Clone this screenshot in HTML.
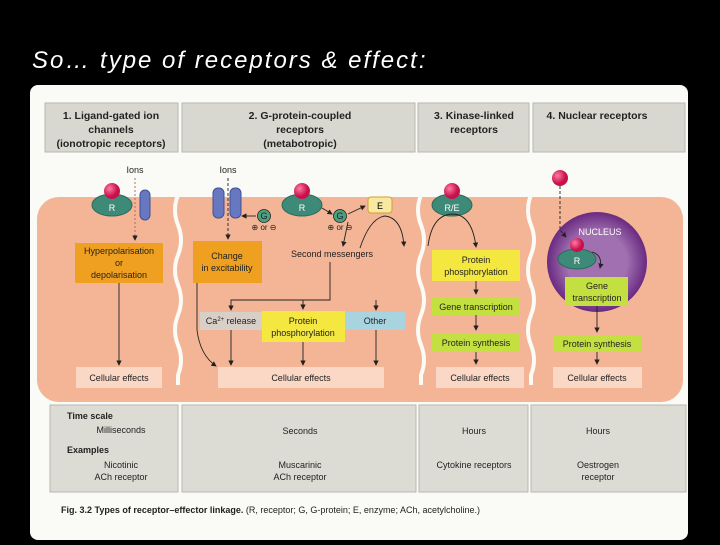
<!DOCTYPE html>
<html><head><style>
body{margin:0;width:720px;height:540px;background:#000;overflow:hidden;font-family:"Liberation Sans",sans-serif}
</style></head><body>
<svg width="720" height="540" viewBox="0 0 720 540" xmlns="http://www.w3.org/2000/svg" font-family="Liberation Sans, sans-serif">
<defs>
<marker id="a" markerWidth="6" markerHeight="6" refX="5" refY="3" orient="auto"><path d="M0,0 L6,3 L0,6z" fill="#222"/></marker>
<radialGradient id="lig" cx="35%" cy="35%"><stop offset="0" stop-color="#ff7aa8"/><stop offset="1" stop-color="#c8104a"/></radialGradient>
<radialGradient id="nuc" cx="50%" cy="50%"><stop offset="0.6" stop-color="#a070b0"/><stop offset="1" stop-color="#6a2a80"/></radialGradient>
</defs>
<text x="32" y="68" fill="#fff" font-size="24" font-style="italic" letter-spacing="2">So… type of receptors &amp; effect:</text>
<rect x="30" y="85" width="658" height="455" rx="8" fill="#fafaf6"/>
<g fill="#d9d8d0" stroke="#b8b8b0">
<rect x="45" y="103" width="133" height="49"/><rect x="182" y="103" width="233" height="49"/>
<rect x="418" y="103" width="111" height="49"/><rect x="533" y="103" width="152" height="49"/>
</g>
<g font-size="10.5" font-weight="bold" fill="#222" text-anchor="middle">
<text x="111" y="119">1. Ligand-gated ion</text><text x="111" y="133">channels</text><text x="111" y="147">(ionotropic receptors)</text>
<text x="300" y="119">2. G-protein-coupled</text><text x="300" y="133">receptors</text><text x="300" y="147">(metabotropic)</text>
<text x="474" y="119">3. Kinase-linked</text><text x="474" y="133">receptors</text>
<text x="597" y="119">4. Nuclear receptors</text>
</g>
<rect x="37" y="197" width="646" height="205" rx="22" fill="#f4b496"/>
<g stroke="#fafaf6" stroke-width="4" fill="none">
<path d="M178,195 q-6,15 0,30 q6,15 0,30 q-6,15 0,30 q6,15 0,30 q-6,15 0,30 q6,15 0,30 l0,10"/>
<path d="M421,195 q-6,15 0,30 q6,15 0,30 q-6,15 0,30 q6,15 0,30 q-6,15 0,30 q6,15 0,30 l0,10"/>
<path d="M531,195 q-6,15 0,30 q6,15 0,30 q-6,15 0,30 q6,15 0,30 q-6,15 0,30 q6,15 0,30 l0,10"/>
</g>
<circle cx="597" cy="262" r="50" fill="url(#nuc)"/>
<text x="600" y="235" font-size="9" fill="#fff" text-anchor="middle">NUCLEUS</text>
<g fill="#3e8a78" stroke="#2a6a5a">
<ellipse cx="112" cy="205" rx="20" ry="11"/><ellipse cx="302" cy="205" rx="20" ry="11"/>
<ellipse cx="452" cy="205" rx="20" ry="11"/><ellipse cx="577" cy="259" rx="19" ry="10"/>
</g>
<g fill="url(#lig)">
<circle cx="112" cy="191" r="8"/><circle cx="302" cy="191" r="8"/><circle cx="452" cy="191" r="8"/>
<circle cx="560" cy="178" r="8"/><circle cx="577" cy="245" r="7"/>
</g>
<g font-size="9" fill="#fff" text-anchor="middle"><text x="112" y="211">R</text><text x="302" y="211">R</text><text x="452" y="211">R/E</text><text x="577" y="264">R</text></g>
<g fill="#6878c0" stroke="#405098">
<rect x="140" y="190" width="10" height="30" rx="5"/><rect x="213" y="188" width="11" height="30" rx="5"/><rect x="230" y="188" width="11" height="30" rx="5"/>
</g>
<g fill="#4aa080" stroke="#222" stroke-width="0.8"><circle cx="264" cy="216" r="6.5"/><circle cx="340" cy="216" r="6.5"/></g>
<g font-size="9" fill="#222" text-anchor="middle"><text x="264" y="219">G</text><text x="340" y="219">G</text>
<text x="264" y="230" font-size="8">⊕ or ⊖</text><text x="340" y="230" font-size="8">⊕ or ⊖</text>
<text x="135" y="173">Ions</text><text x="228" y="173">Ions</text></g>
<rect x="368" y="197" width="24" height="16" rx="3" fill="#f8e8a0" stroke="#d0a030"/>
<text x="380" y="209" font-size="9" text-anchor="middle">E</text>
<rect x="75" y="243" width="88" height="40" fill="#f0a020"/>
<rect x="193" y="241" width="69" height="42" fill="#f0a020"/>
<rect x="200" y="312" width="62" height="18" fill="#d8d0c8"/>
<rect x="262" y="311" width="83" height="31" fill="#f4e840"/>
<rect x="345" y="312" width="60" height="18" fill="#a8d4e0"/>
<rect x="432" y="250" width="88" height="31" fill="#f4e840"/>
<rect x="432" y="297" width="88" height="18" fill="#c4e040"/>
<rect x="432" y="333" width="88" height="19" fill="#c4e040"/>
<rect x="565" y="277" width="63" height="29" fill="#c4e040"/>
<rect x="553" y="335" width="88" height="17" fill="#c4e040"/>
<g fill="#fbd8c6"><rect x="76" y="367" width="86" height="21"/><rect x="218" y="367" width="166" height="21"/><rect x="436" y="367" width="88" height="21"/><rect x="553" y="367" width="89" height="21"/></g>
<g font-size="9" fill="#222" text-anchor="middle">
<text x="119" y="254">Hyperpolarisation</text><text x="119" y="266">or</text><text x="119" y="278">depolarisation</text>
<text x="227" y="259">Change</text><text x="227" y="271">in excitability</text>
<text x="332" y="257">Second messengers</text>
<text x="231" y="324">Ca<tspan font-size="6" dy="-3">2+</tspan><tspan dy="3"> release</tspan></text>
<text x="303" y="324">Protein</text><text x="303" y="336">phosphorylation</text>
<text x="375" y="324">Other</text>
<text x="476" y="263">Protein</text><text x="476" y="275">phosphorylation</text>
<text x="476" y="310">Gene transcription</text><text x="476" y="346">Protein synthesis</text>
<text x="597" y="289">Gene</text><text x="597" y="301">transcription</text>
<text x="597" y="347">Protein synthesis</text>
<text x="119" y="381">Cellular effects</text><text x="301" y="381">Cellular effects</text><text x="480" y="381">Cellular effects</text><text x="597" y="381">Cellular effects</text>
</g>
<g stroke="#222" stroke-width="0.9" fill="none" marker-end="url(#a)">
<path d="M135,178 L135,240" stroke-dasharray="2,2" stroke="#b06060"/>
<path d="M228,178 L228,239" stroke-dasharray="3,2"/>
<path d="M119,283 L119,365"/>
<path d="M256,216 L242,216"/><path d="M322,208 L332,214"/><path d="M348,214 L365,206"/>
<path d="M348,222 L343,246"/>
<path d="M330,262 L330,300 L231,300 L231,310"/><path d="M303,300 L303,309"/><path d="M376,300 L376,310"/>
<path d="M231,330 L231,365"/><path d="M303,342 L303,365"/><path d="M376,330 L376,365"/>
<path d="M197,283 L197,330 Q200,355 216,366"/>
<path d="M360,248 Q370,218 385,216 Q402,218 404,246"/>
<path d="M428,246 Q432,215 452,214 Q472,214 476,247"/>
<path d="M476,281 L476,294"/><path d="M476,315 L476,330"/><path d="M476,352 L476,364"/>
<path d="M560,186 L560,230 L566,237" stroke-dasharray="3,2"/>
<path d="M592,252 Q603,255 600,268"/>
<path d="M597,306 L597,332"/><path d="M597,352 L597,364"/>
</g>
<g fill="#dcdcd4" stroke="#b8b8b0"><rect x="50" y="405" width="128" height="87"/><rect x="182" y="405" width="234" height="87"/><rect x="419" y="405" width="109" height="87"/><rect x="531" y="405" width="155" height="87"/></g>
<g font-size="9" fill="#222" text-anchor="middle">
<text x="67" y="419" text-anchor="start" font-weight="bold">Time scale</text>
<text x="121" y="433">Milliseconds</text>
<text x="67" y="453" text-anchor="start" font-weight="bold">Examples</text>
<text x="121" y="468">Nicotinic</text><text x="121" y="480">ACh receptor</text>
<text x="300" y="434">Seconds</text><text x="300" y="468">Muscarinic</text><text x="300" y="480">ACh receptor</text>
<text x="474" y="434">Hours</text><text x="474" y="468">Cytokine receptors</text>
<text x="598" y="434">Hours</text><text x="598" y="468">Oestrogen</text><text x="598" y="480">receptor</text>
</g>
<text x="61" y="513" font-size="9" fill="#222"><tspan font-weight="bold">Fig. 3.2   Types of receptor–effector linkage.</tspan> (R, receptor; G, G-protein; E, enzyme; ACh, acetylcholine.)</text>
</svg>
</body></html>
